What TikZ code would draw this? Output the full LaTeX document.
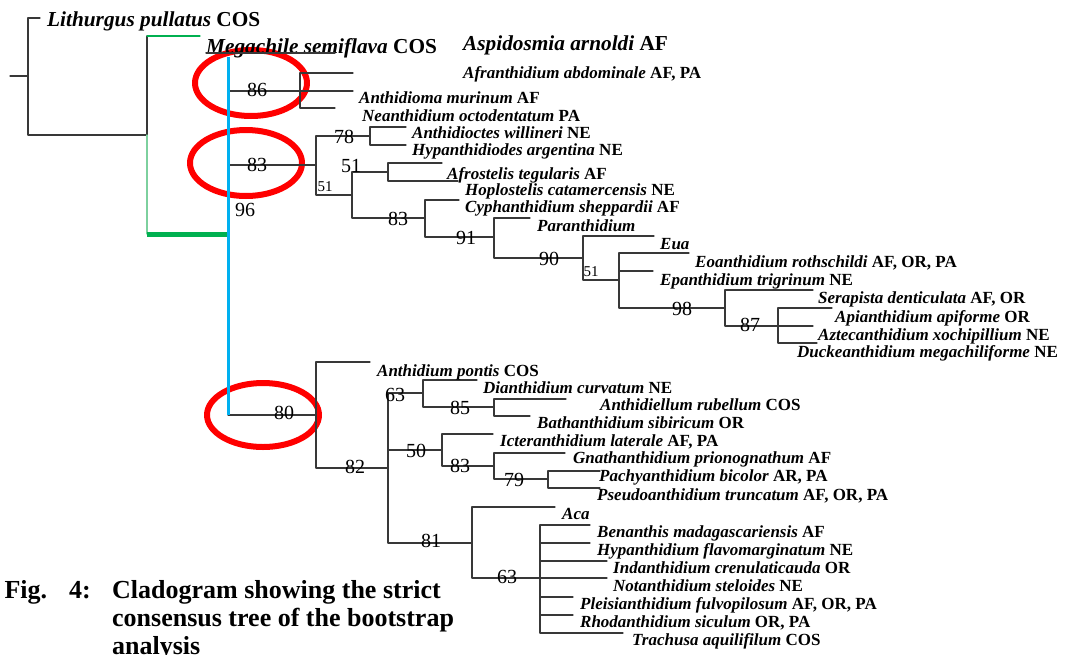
\documentclass[tikz,border=0pt]{standalone}
\usepackage{fontspec}
\setmainfont{Liberation Serif}
\definecolor{ringred}{RGB}{255,0,0}
\definecolor{msblue}{RGB}{0,176,240}
\definecolor{msgreen}{RGB}{0,176,80}
\definecolor{palegreen}{RGB}{125,208,158}
\newcommand{\taxon}[2]{\textit{#1} #2}

\begin{document}
\begin{tikzpicture}[line cap=round,line join=round,x=1pt,y=-1pt,
    br/.style={line width=1.1pt,black!78},
    lab/.style={anchor=base west,inner sep=0pt,font=\fontsize{17}{19}\selectfont\bfseries},
    biglab/.style={lab,font=\fontsize{21.3}{24}\selectfont\bfseries},
    bs/.style={inner sep=0pt,font=\fontsize{20}{22}\selectfont},
    bssmall/.style={inner sep=0pt,font=\fontsize{15}{17}\selectfont},
    capt/.style={inner sep=0pt,font=\fontsize{26}{28}\selectfont\bfseries},
    ring/.style={draw=ringred,line width=6pt}]
\clip (0,0) rectangle (1068,654);
\fill[white] (0,0) rectangle (1068,654);
% highlighted nodes
\draw [ring] (251,83) ellipse [x radius=56pt, y radius=33pt];
\draw [ring] (246,163) ellipse [x radius=56pt, y radius=33pt];
\draw [ring] (263,415) ellipse [x radius=56pt, y radius=32pt];
% root and outgroups
\coordinate (root) at (10,76);
\coordinate (n0) at (28,76);
\coordinate (lith) at (40,18);
\coordinate (n1) at (147,135);
\coordinate (n1t) at (147,36);
\coordinate (mega) at (200,36);
\coordinate (n1b) at (147,234);
\coordinate (n96) at (228,234);
\coordinate (blt) at (228,57);
\coordinate (c86) at (228,91);
\coordinate (c83) at (228,165);
\coordinate (c80) at (228,415);
\draw [br] (root) -- (n0);
\draw [br] (lith) -| (n0) |- (n1);
\draw [br] (n1) -- (n1t);
\draw [line width=1.3pt, msgreen] (n1t) -- (mega);
\draw [line width=1.3pt, palegreen] (n1) -- (n1b);
\draw [line width=5pt, msgreen, line cap=butt] (n1b) -- (n96);
% clade 86
\coordinate (n86) at (300,91);
\coordinate (t86a) at (353,73);
\coordinate (t86b) at (353,91);
\coordinate (t86c) at (335,108);
\draw [br] (c86) -- (t86b);
\draw [br] (t86a) -| (n86) |- (t86c);
% clade 83
\coordinate (n83) at (316,165);
\coordinate (n78) at (370,136);
\coordinate (t78a) at (406,127);
\coordinate (t78b) at (406,145);
\coordinate (n51) at (352,195);
\coordinate (n51b) at (388,172);
\coordinate (t51a) at (442,163);
\coordinate (t51b) at (458,181);
\coordinate (n83b) at (425,218);
\coordinate (t83a) at (459,200);
\coordinate (n91) at (494,237);
\coordinate (t91) at (530,218);
\coordinate (n90) at (583,258);
\coordinate (t90) at (654,236);
\coordinate (n51c) at (619,280);
\coordinate (t51c) at (689,253);
\coordinate (t51d) at (653,271);
\coordinate (n98) at (725,308);
\coordinate (t98) at (813,290);
\coordinate (n87) at (778,326);
\coordinate (t87a) at (832,308);
\coordinate (t87b) at (813,326);
\coordinate (t87c) at (817,343);
\draw [br] (c83) -- (n83);
\draw [br] (n78) -| (n83) |- (n51);
\draw [br] (t78a) -| (n78) |- (t78b);
\draw [br] (n51b) -| (n51) |- (n83b);
\draw [br] (t51a) -| (n51b) |- (t51b);
\draw [br] (t83a) -| (n83b) |- (n91);
\draw [br] (t91) -| (n91) |- (n90);
\draw [br] (t90) -| (n90) |- (n51c);
\draw [br] (t51c) -| (n51c) |- (n98);
\draw [br] (n51c |- t51d) -- (t51d);
\draw [br] (t98) -| (n98) |- (t87b);
\draw [br] (t87a) -| (n87) |- (t87c);
% clade 80
\coordinate (n80) at (316,415);
\coordinate (t80) at (370,362);
\coordinate (n82) at (388,468);
\coordinate (n63) at (423,393);
\coordinate (t63) at (477,380);
\coordinate (n85) at (494,407);
\coordinate (t85a) at (566,399);
\coordinate (t85b) at (530,416);
\coordinate (n50) at (442,450);
\coordinate (t50) at (493,434);
\coordinate (n83c) at (494,466);
\coordinate (t83c) at (565,453);
\coordinate (n79) at (548,479);
\coordinate (t79a) at (600,471);
\coordinate (t79b) at (600,488);
\coordinate (n81) at (472,543);
\coordinate (t81) at (555,507);
\coordinate (n63b) at (540,578);
\coordinate (t63a) at (590,525);
\coordinate (t63b) at (590,543);
\coordinate (t63c) at (607,561);
\coordinate (t63d) at (607,578);
\coordinate (t63e) at (573,597);
\coordinate (t63f) at (573,615);
\coordinate (t63g) at (623,633);
\draw [br] (c80) -- (n80);
\draw [br] (t80) -| (n80) |- (n82);
\draw [br] (n63) -| (n82) |- (n81);
\draw [br] (n82 |- n50) -- (n50);
\draw [br] (t63) -| (n63) |- (n85);
\draw [br] (t85a) -| (n85) |- (t85b);
\draw [br] (t50) -| (n50) |- (n83c);
\draw [br] (t83c) -| (n83c) |- (n79);
\draw [br] (t79a) -| (n79) |- (t79b);
\draw [br] (t81) -| (n81) |- (t63d);
\draw [br] (t63a) -| (n63b) |- (t63g);
\foreach \t in {t63b,t63c,t63e,t63f}
  \draw [br] (n63b |- \t) -- (\t);
% backbone
\draw [line width=3pt, msblue, line cap=butt] (blt) -- (c80);
% bootstrap values
\node [bs] (b86) at (257,90) {86};
\node [bs] (b83) at (257,165) {83};
\node [bs] (b96) at (245,210) {96};
\node [bs] (b78) at (344,137) {78};
\node [bs] (b51) at (351,166) {51};
\node [bssmall] (b51s) at (325,187) {51};
\node [bs] (b83b) at (398,219) {83};
\node [bs] (b91) at (466,238) {91};
\node [bs] (b90) at (549,259) {90};
\node [bssmall] (b51t) at (591,272) {51};
\node [bs] (b98) at (682,309) {98};
\node [bs] (b87) at (750,325) {87};
\node [bs] (b80) at (284,413) {80};
\node [bs] (b63) at (395,395) {63};
\node [bs] (b85) at (460,408) {85};
\node [bs] (b82) at (355,467) {82};
\node [bs] (b50) at (416,451) {50};
\node [bs] (b83c) at (460,466) {83};
\node [bs] (b79) at (514,480) {79};
\node [bs] (b81) at (431,541) {81};
\node [bs] (b63b) at (507,577) {63};
% taxa
\node [biglab] (lithurgus) at (47,26) {\taxon{Lithurgus pullatus}{COS}};
\node [biglab] (megachile) at (206,53) {\taxon{Megachile semiflava}{COS}};
\draw [br] (megachile.base west) -- ++(129,0);
\node [biglab] (aspidosmia) at (463,50) {\taxon{Aspidosmia arnoldi}{AF}};
\node [lab] (afranthidium) at (463,78) {\taxon{Afranthidium abdominale}{AF, PA}};
\node [lab] (anthidioma) at (359,103) {\taxon{Anthidioma murinum}{AF}};
\node [lab] (neanthidium) at (362,121) {\taxon{Neanthidium octodentatum}{PA}};
\node [lab] (anthidioctes) at (412,138) {\taxon{Anthidioctes willineri}{NE}};
\node [lab] (hypanthidiodes) at (412,155) {\taxon{Hypanthidiodes argentina}{NE}};
\node [lab] (afrostelis) at (447,179) {\taxon{Afrostelis tegularis}{AF}};
\node [lab] (hoplostelis) at (465,195) {\taxon{Hoplostelis catamercensis}{NE}};
\node [lab] (cyphanthidium) at (465,212) {\taxon{Cyphanthidium sheppardii}{AF}};
\node [lab] (paranthidium) at (537,231) {\textit{Paranthidium}};
\node [lab] (eua) at (660,249) {\textit{Eua}};
\node [lab] (eoanthidium) at (695,267) {\taxon{Eoanthidium rothschildi}{AF, OR, PA}};
\node [lab] (epanthidium) at (660,285) {\taxon{Epanthidium trigrinum}{NE}};
\node [lab] (serapista) at (818,303) {\taxon{Serapista denticulata}{AF, OR}};
\node [lab] (apianthidium) at (835,322) {\taxon{Apianthidium apiforme}{OR}};
\node [lab] (aztecanthidium) at (818,340) {\taxon{Aztecanthidium xochipillium}{NE}};
\node [lab] (duckeanthidium) at (797,357) {\taxon{Duckeanthidium megachiliforme}{NE}};
\node [lab] (anthidium) at (377,376) {\taxon{Anthidium pontis}{COS}};
\node [lab] (dianthidium) at (483,393) {\taxon{Dianthidium curvatum}{NE}};
\node [lab] (anthidiellum) at (600,410) {\taxon{Anthidiellum rubellum}{COS}};
\node [lab] (bathanthidium) at (537,428) {\taxon{Bathanthidium sibiricum}{OR}};
\node [lab] (icteranthidium) at (500,446) {\taxon{Icteranthidium laterale}{AF, PA}};
\node [lab] (gnathanthidium) at (573,463) {\taxon{Gnathanthidium prionognathum}{AF}};
\node [lab] (pachyanthidium) at (599,481) {\taxon{Pachyanthidium bicolor}{AR, PA}};
\node [lab] (pseudoanthidium) at (597,500) {\taxon{Pseudoanthidium truncatum}{AF, OR, PA}};
\node [lab] (aca) at (562,519) {\textit{Aca}};
\node [lab] (benanthis) at (597,537) {\taxon{Benanthis madagascariensis}{AF}};
\node [lab] (hypanthidium) at (597,555) {\taxon{Hypanthidium flavomarginatum}{NE}};
\node [lab] (indanthidium) at (613,573) {\taxon{Indanthidium crenulaticauda}{OR}};
\node [lab] (notanthidium) at (613,591) {\taxon{Notanthidium steloides}{NE}};
\node [lab] (pleisianthidium) at (580,609) {\taxon{Pleisianthidium fulvopilosum}{AF, OR, PA}};
\node [lab] (rhodanthidium) at (580,627) {\taxon{Rhodanthidium siculum}{OR, PA}};
\node [lab] (trachusa) at (632,645) {\taxon{Trachusa aquilifilum}{COS}};
% caption
\node [capt, anchor=base east] (fig) at (91,598) {Fig.\hspace*{22pt}4:};
\node [capt, anchor=base west] (cap1) at (112,598) {Cladogram showing the strict};
\node [capt, anchor=base west] (cap2) at (112,626) {consensus tree of the bootstrap};
\node [capt, anchor=base west] (cap3) at (112,654) {analysis};
\end{tikzpicture}
\end{document}
